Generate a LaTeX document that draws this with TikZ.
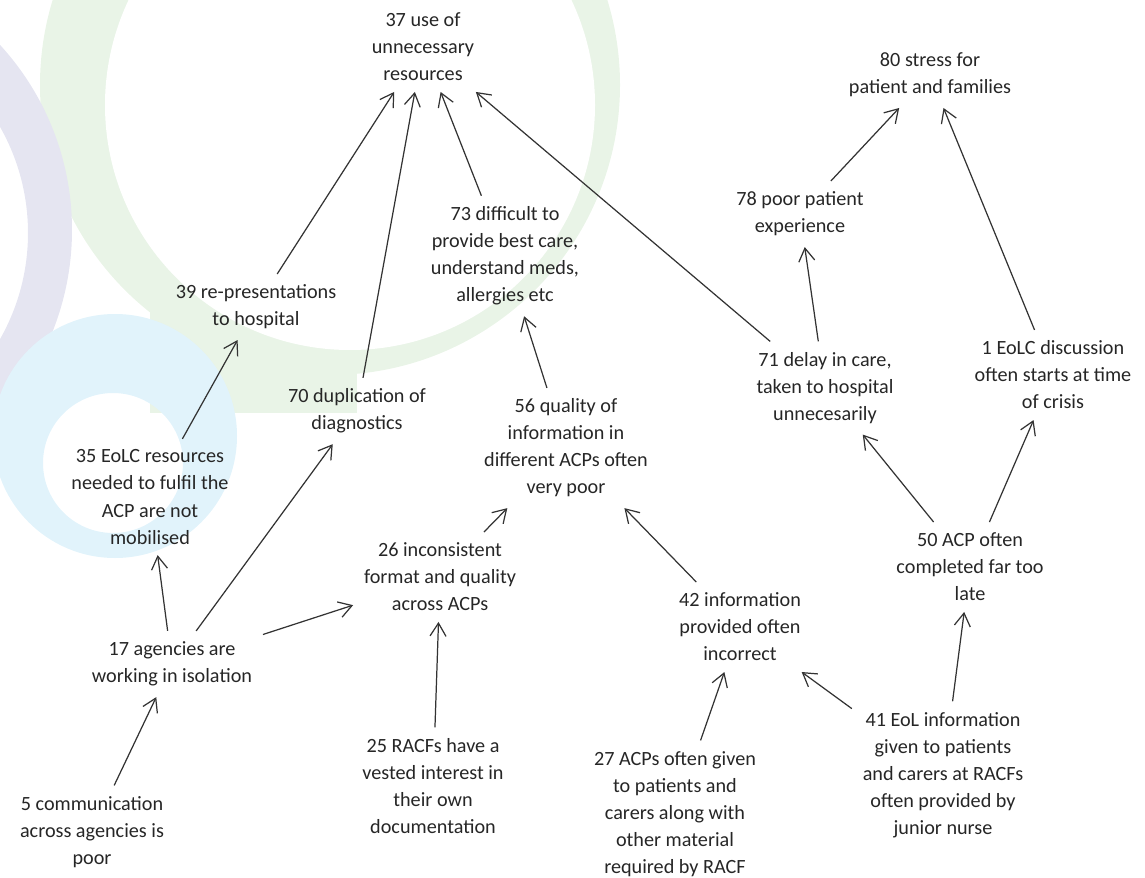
\documentclass[tikz,border=0pt]{standalone}
\usepackage{fontspec}
\setmainfont{Carlito}
\usetikzlibrary{arrows.meta}
\definecolor{lavring}{RGB}{229,229,241}
\definecolor{greenring}{RGB}{233,244,231}
\definecolor{bluering}{RGB}{225,243,251}
\tikzset{
  factor/.style = {align=center, inner sep=6pt, text=black!85,
                   font=\fontsize{11.5}{15.4}\selectfont},
  link/.style   = {-{Straight Barb[length=2.6mm,width=3.2mm]},
                   line width=0.7pt, draw=black!80},
}

\begin{document}
\begin{tikzpicture}[x=0.02cm,y=-0.02cm]
\useasboundingbox (0,0) rectangle (1145,878);
% faded logo behind the map
\fill[greenring] (330,85) circle[radius=290];
\fill[greenring] (150,300) rectangle (357,413);
\fill[white] (350,105) circle[radius=245];
\fill[lavring,even odd rule] (-202,230) circle[radius=274] (-187,233) circle[radius=215];
\fill[bluering,even odd rule] (115,436) circle[radius=122] (113,463) circle[radius=70];

\node[factor] (n37) at (423,47)  {37 use of\\unnecessary\\resources};
\node[factor] (n80) at (930,75)  {80 stress for\\patient and families};
\node[factor] (n78) at (800,214) {78 poor patient\\experience};
\node[factor] (n73) at (505,256) {73 difficult to\\provide best care,\\understand meds,\\allergies etc};
\node[factor] (n39) at (256,307) {39 re-presentations\\to hospital};
\node[factor] (n71) at (825,388) {71 delay in care,\\taken to hospital\\unnecesarily};
\node[factor] (n1)  at (1053,375) {1 EoLC discussion\\often starts at time\\of crisis};
\node[factor] (n70) at (357,411) {70 duplication of\\diagnostics};
\node[factor] (n56) at (566,448) {56 quality of\\information in\\different ACPs often\\very poor};
\node[factor] (n35) at (150,497) {35 EoLC resources\\needed to fulfil the\\ACP are not\\mobilised};
\node[factor] (n26) at (440,577) {26 inconsistent\\format and quality\\across ACPs};
\node[factor] (n50) at (970,567) {50 ACP often\\completed far too\\late};
\node[factor] (n42) at (740,627) {42 information\\provided often\\incorrect};
\node[factor] (n17) at (172,664) {17 agencies are\\working in isolation};
\node[factor] (n41) at (943,775) {41 EoL information\\given to patients\\and carers at RACFs\\often provided by\\junior nurse};
\node[factor] (n25) at (433,786) {25 RACFs have a\\vested interest in\\their own\\documentation};
\node[factor] (n27) at (675,814) {27 ACPs often given\\to patients and\\carers along with\\other material\\required by RACF};
\node[factor] (n5)  at (92,832)  {5 communication\\across agencies is\\poor};

% causes -> effects
\draw[link] (n39) -- (n37); \draw[link] (n70) -- (n37);
\draw[link] (n73) -- (n37); \draw[link] (n71) -- (n37);
\draw[link] (n78) -- (n80); \draw[link] (n1) -- (n80);
\draw[link] (n71) -- (n78); \draw[link] (n56) -- (n73);
\draw[link] (n35) -- (n39);
\draw[link] (n17) -- (n35); \draw[link] (n17) -- (n70); \draw[link] (n17) -- (n26);
\draw[link] (n5) -- (n17);
\draw[link] (n25) -- (n26); \draw[link] (n26) -- (n56);
\draw[link] (n42) -- (n56);
\draw[link] (n27) -- (n42); \draw[link] (n41) -- (n42);
\draw[link] (n41) -- (n50);
\draw[link] (n50) -- (n71); \draw[link] (n50) -- (n1);
\end{tikzpicture}
\end{document}
